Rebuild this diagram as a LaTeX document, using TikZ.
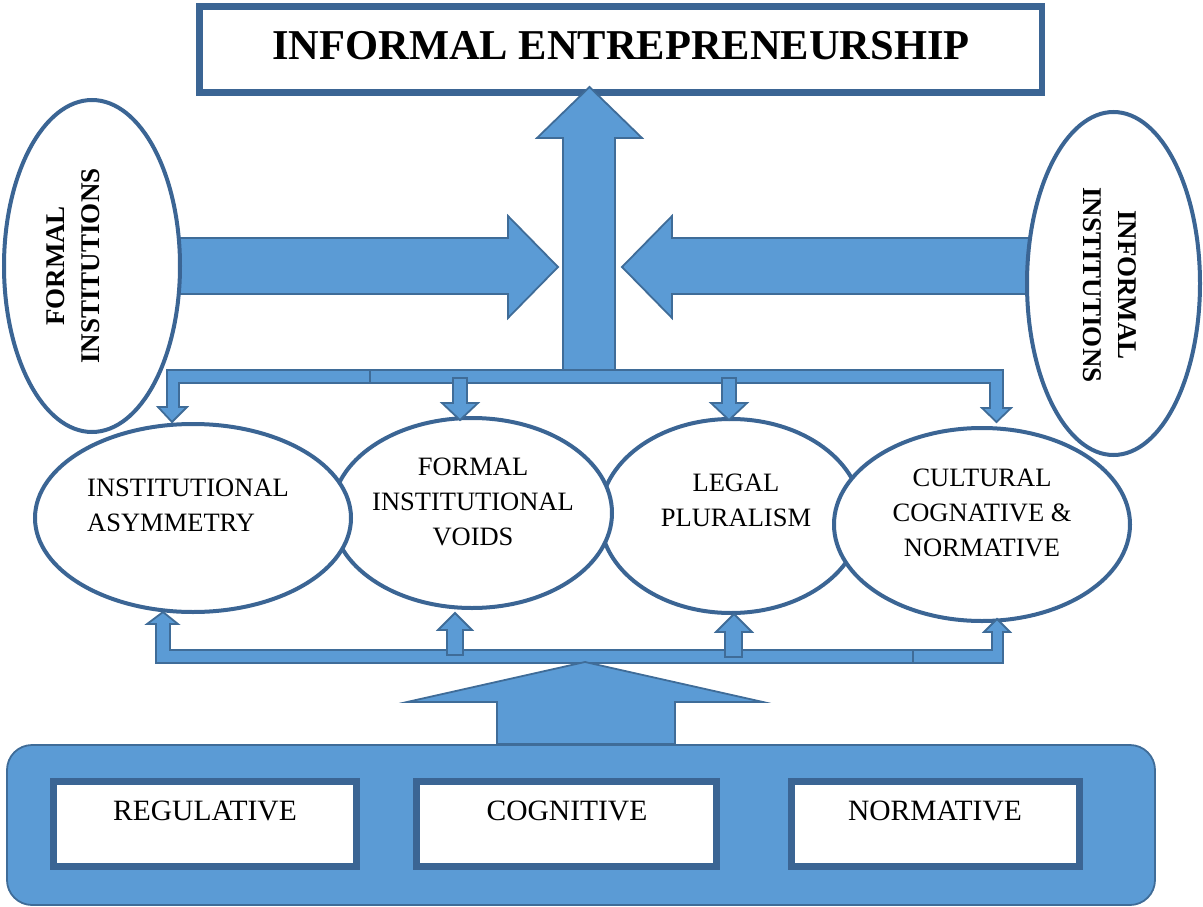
\documentclass[tikz,border=0pt]{standalone}
\usepackage{fontspec}
\setmainfont{Liberation Serif}
\usetikzlibrary{shapes.geometric}
\definecolor{fillblue}{HTML}{5B9BD5}
\definecolor{edgeblue}{HTML}{3F6C98}
\definecolor{darkblue}{HTML}{3B6594}
\begin{document}
\begin{tikzpicture}[x=1pt,y=-1pt,
  blockarrow/.style={fill=fillblue,draw=edgeblue,line width=1.8pt,line join=miter},
  ellnode/.style={ellipse,draw=darkblue,line width=4pt,fill=white,inner sep=0pt},
  boxnode/.style={rectangle,draw=darkblue,line width=7pt,fill=white,inner sep=0pt},
  elltext/.style={font=\fontsize{26.5}{35}\selectfont,align=center,inner sep=0pt},
  sidetext/.style={font=\fontsize{27}{35}\selectfont\bfseries,align=center,inner sep=0pt},
  boxtext/.style={font=\fontsize{29.5}{34}\selectfont,inner sep=0pt}]
\useasboundingbox (0,0) rectangle (1203,907);

% title box
\node[boxnode,line width=6.5pt,minimum width=842.5pt,minimum height=86pt] (titlebox) at (620.75,49.5) {};
\node[font=\fontsize{42.5}{50}\selectfont\bfseries,inner sep=0pt] (title) at (621,46) {INFORMAL ENTREPRENEURSHIP};

% side arrows
\draw[blockarrow] (150,238) -- (508,238) -- (508,216) -- (558,267) -- (508,318) -- (508,294) -- (150,294) -- cycle;
\draw[blockarrow] (1060,238) -- (672,238) -- (672,216) -- (622,267) -- (672,318) -- (672,294) -- (1060,294) -- cycle;

% side ellipses
\node[ellnode,minimum width=176pt,minimum height=332pt] (formal) at (92,266) {};
\node[sidetext,rotate=90] (formaltext) at (73.5,266) {FORMAL\\INSTITUTIONS};
\node[ellnode,minimum width=173pt,minimum height=343pt] (informal) at (1113.5,283.5) {};
\node[sidetext,rotate=-90] (informaltext) at (1110,285) {INFORMAL\\INSTITUTIONS};

% big up arrow
\draw[blockarrow] (563,371) -- (563,138) -- (537,138) -- (589.5,87) -- (642,138) -- (615,138) -- (615,371) -- cycle;

% top bracket
\draw[blockarrow] (172,422) -- (158,407) -- (167,407) -- (167,370) -- (1003,370) -- (1003,408) -- (1011,408) -- (996.5,422) -- (982,408) -- (990,408) -- (990,383) -- (179,383) -- (179,407) -- (187,407) -- cycle;
\draw[edgeblue,line width=1.8pt] (370,370) -- (370,383);

% middle ellipses
\node[ellnode,minimum width=262pt,minimum height=194pt] (legal) at (731,516) {};
\node[ellnode,minimum width=280pt,minimum height=190pt] (voids) at (472,513) {};
\node[ellnode,minimum width=316pt,minimum height=188pt] (asym) at (193,518) {};
\node[ellnode,minimum width=296pt,minimum height=193pt] (cultural) at (982,524.5) {};

\node[elltext,align=left,anchor=west] (asymtext) at (87,505) {INSTITUTIONAL\\ASYMMETRY};
\node[elltext] (voidstext) at (473,502) {FORMAL\\INSTITUTIONAL\\VOIDS};
\node[elltext] (legaltext) at (736,500) {LEGAL\\PLURALISM};
\node[elltext] (culturaltext) at (982,513) {CULTURAL\\COGNATIVE \&\\NORMATIVE};

% small down arrows
\draw[blockarrow] (453,378) -- (467,378) -- (467,403) -- (478,403) -- (460,420) -- (442,403) -- (453,403) -- cycle;
\draw[blockarrow] (722,378) -- (736,378) -- (736,403) -- (747,403) -- (729,420) -- (711,403) -- (722,403) -- cycle;

% bottom bracket
\draw[blockarrow] (163,612) -- (178,624) -- (170,624) -- (170,650) -- (992,650) -- (992,632) -- (984,632) -- (997,619) -- (1010,632) -- (1003,632) -- (1003,663) -- (156,663) -- (156,624) -- (147,624) -- cycle;
\draw[edgeblue,line width=1.8pt] (913,650) -- (913,663);

% small up arrows
\draw[blockarrow] (447,655) -- (447,630) -- (438,630) -- (455,613) -- (472,630) -- (463,630) -- (463,655) -- cycle;
\draw[blockarrow] (725,657) -- (725,632) -- (716,632) -- (734,614) -- (752,632) -- (742,632) -- (742,657) -- cycle;

% big bottom arrow
\draw[blockarrow] (497,744) -- (497,702) -- (407,702) -- (585,662) -- (763,702) -- (675,702) -- (675,744) -- cycle;

% base
\node[draw=edgeblue,fill=fillblue,line width=1.8pt,rounded corners=25pt,minimum width=1148pt,minimum height=160pt,inner sep=0pt] (base) at (581,825) {};

\node[boxnode,minimum width=303pt,minimum height=85pt] (regbox) at (205,824) {};
\node[boxnode,minimum width=300pt,minimum height=85pt] (cogbox) at (566.5,824) {};
\node[boxnode,minimum width=288pt,minimum height=85pt] (normbox) at (935.5,824) {};
\node[boxtext] (regtext) at (205,811) {REGULATIVE};
\node[boxtext] (cogtext) at (567,811) {COGNITIVE};
\node[boxtext] (normtext) at (935,811) {NORMATIVE};
\end{tikzpicture}
\end{document}
